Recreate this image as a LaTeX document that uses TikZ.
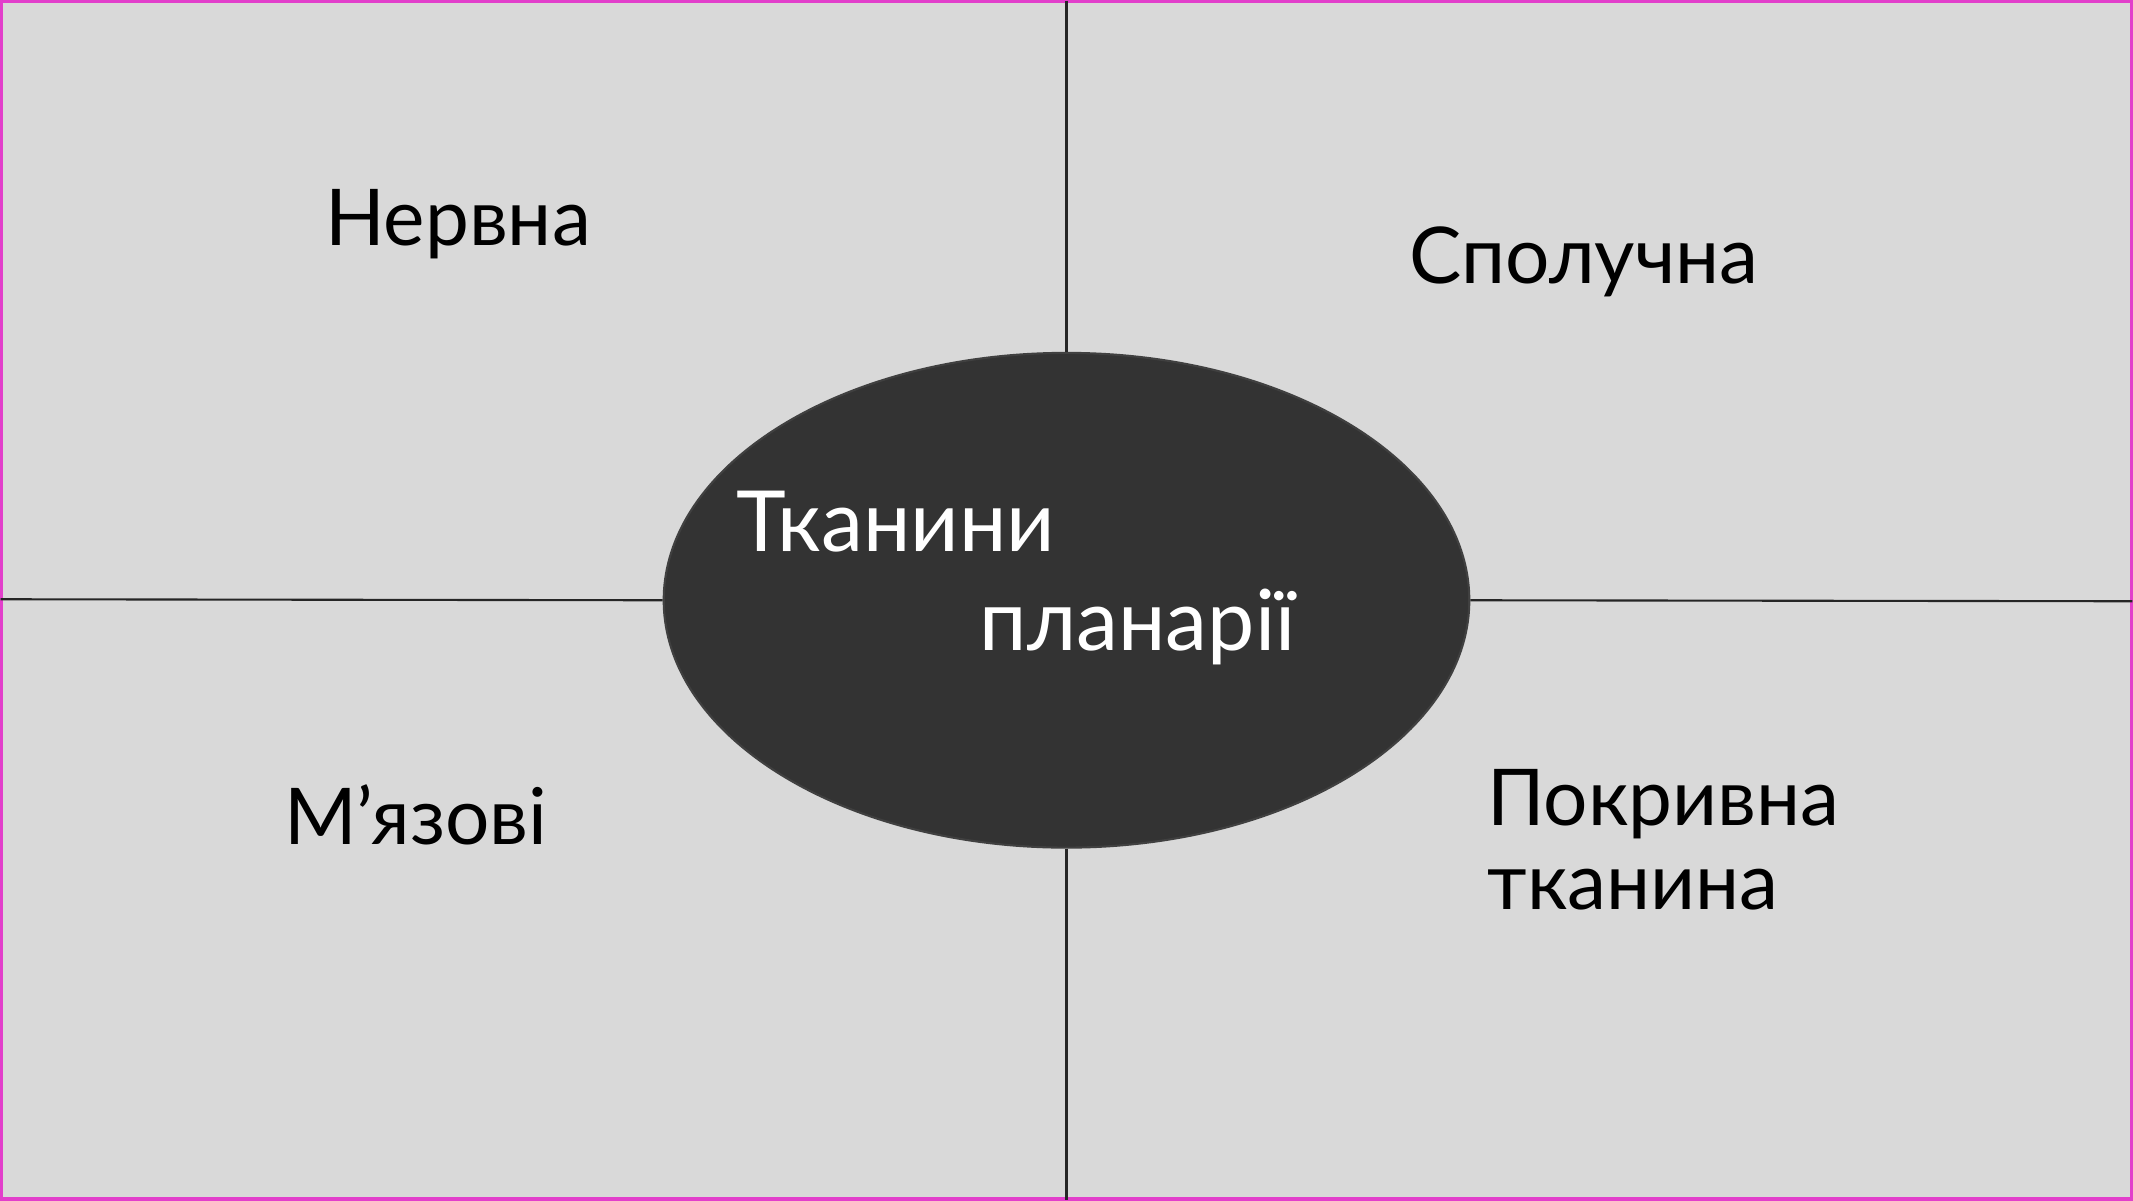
\documentclass[tikz,border=0pt]{standalone}
\usepackage{fontspec}
\setmainfont{Lato}
\usetikzlibrary{shapes.geometric}

\definecolor{tlo}{HTML}{D9D9D9}
\definecolor{rama}{HTML}{E23FCB}
\definecolor{jadro}{HTML}{333333}

\tikzset{
    napis/.style={anchor=base west, inner sep=0pt, font=\fontsize{22.3}{25}\selectfont},
    tytul/.style={napis, white, font=\fontsize{24}{27}\selectfont},
    os/.style={line width=0.6pt, black!85}
}

\begin{document}
\begin{tikzpicture}[scale=1]

    %-------------------------
    % Tlo i ramka
    %-------------------------
    \fill[tlo] (0,0) rectangle (21.33,12);
    \draw[rama, line width=0.9pt] (0.01,0.01) rectangle (21.32,11.99);
    \useasboundingbox (0,0) rectangle (21.33,12);

    % Punkty na brzegach
    \coordinate (gora) at (10.665,12);
    \coordinate (dol) at (10.665,0);
    \coordinate (lewo) at (0,6.01);
    \coordinate (prawo) at (21.33,5.99);

    %-------------------------
    % Elipsa w srodku
    %-------------------------
    \node[ellipse, fill=jadro, draw=black!75, line width=0.6pt,
          minimum width=8.06cm, minimum height=4.95cm, inner sep=0pt]
          (tkanki) at (10.665,6) {};

    % Osie do brzegow
    \draw[os] (gora) -- (tkanki.north);
    \draw[os] (tkanki.south) -- (dol);
    \draw[os] (lewo) -- (tkanki.west);
    \draw[os] (tkanki.east) -- (prawo);

    % Napis w elipsie
    \node[tytul] (tytul1) at (7.36,6.49) {Тканини};
    \node[tytul] (tytul2) at (9.79,5.50) {планарії};

    %-------------------------
    % Rodzaje tkanek
    %-------------------------
    \node[napis] (nerwowa) at (3.24,9.55) {Нервна};
    \node[napis] (laczna) at (14.09,9.17) {Сполучна};
    \node[napis] (miesnie) at (2.83,3.56) {М’язові};
    \node[napis] (okrywa1) at (14.87,3.75) {Покривна};
    \node[napis] (okrywa2) at (14.87,2.91) {тканина};

\end{tikzpicture}
\end{document}
